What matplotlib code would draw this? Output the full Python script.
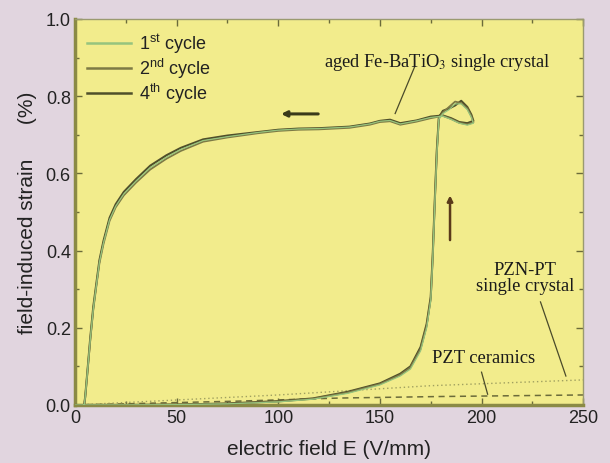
import numpy as np
import matplotlib.pyplot as plt
from matplotlib.ticker import MultipleLocator

plt.rcParams['font.family'] = ['Liberation Sans', 'DejaVu Sans']
plt.rcParams['mathtext.fontset'] = 'custom'
plt.rcParams['mathtext.rm'] = 'Liberation Sans'

# field values along one loop (rise, small loop at top, then back down)
field = [0, 25, 50, 75, 100, 117, 134, 150, 160, 165, 170, 173, 175, 176, 177, 178, 179,
         181, 184, 187, 190, 193, 195, 196, 193, 189, 185, 181,
         175, 168, 160, 155, 150, 145, 135, 120, 110, 100, 90, 75, 63, 52, 45, 37,
         30, 24, 20, 17, 14, 12, 10.5, 9, 7.5, 6, 5, 4.5]
strain_1st = [0, 0.0, 0.001, 0.003, 0.008, 0.015, 0.03, 0.052, 0.075, 0.093, 0.14, 0.2, 0.27, 0.38, 0.52, 0.65, 0.74,
              0.755, 0.765, 0.78, 0.78, 0.765, 0.745, 0.73, 0.725, 0.73, 0.74, 0.748,
              0.745, 0.736, 0.728, 0.737, 0.735, 0.728, 0.72, 0.716, 0.715, 0.712, 0.706, 0.695, 0.685, 0.662, 0.642, 0.615,
              0.58, 0.547, 0.515, 0.48, 0.42, 0.37, 0.31, 0.25, 0.17, 0.08, 0.02, 0.0]
strain_2nd = [0, 0.0, 0.001, 0.003, 0.009, 0.016, 0.032, 0.054, 0.078, 0.097, 0.145, 0.205, 0.275, 0.385, 0.525, 0.655, 0.742,
              0.758, 0.772, 0.786, 0.782, 0.768, 0.748, 0.732, 0.727, 0.731, 0.741, 0.749,
              0.743, 0.734, 0.726, 0.735, 0.733, 0.726, 0.718, 0.714, 0.713, 0.71, 0.704, 0.693, 0.682, 0.658, 0.638, 0.61,
              0.576, 0.543, 0.512, 0.477, 0.417, 0.367, 0.308, 0.248, 0.168, 0.079, 0.02, 0.0]
strain_4th = [0, 0.0, 0.001, 0.004, 0.01, 0.017, 0.034, 0.056, 0.081, 0.1, 0.15, 0.21, 0.28, 0.39, 0.53, 0.66, 0.745,
              0.762, 0.768, 0.776, 0.788, 0.772, 0.752, 0.736, 0.73, 0.733, 0.743, 0.75,
              0.747, 0.737, 0.73, 0.739, 0.736, 0.729, 0.721, 0.717, 0.716, 0.713, 0.707, 0.698, 0.688, 0.666, 0.647, 0.62,
              0.585, 0.552, 0.52, 0.485, 0.425, 0.375, 0.315, 0.255, 0.174, 0.081, 0.021, 0.0]

# reference materials
pzt_field = [0, 80, 130, 180, 250]
pzt_strain = [0.0, 0.01, 0.018, 0.022, 0.026]
pznpt_field = [0, 100, 175, 250]
pznpt_strain = [0.0, 0.026, 0.05, 0.065]

fig = plt.figure(figsize=(6.1, 4.64), dpi=100, facecolor='#e1d5df')
ax = fig.add_axes([0.123, 0.125, 0.833, 0.832])
ax.set_facecolor('#f2ec8c')

ax.plot(pzt_field, pzt_strain, color='#6b6b3a', lw=1.1, ls=(0, (4, 3)))
ax.plot(pznpt_field, pznpt_strain, color='#a0a060', lw=1.0, ls=(0, (1, 2)))

ax.plot(field, strain_4th, color='#4f4f2a', lw=1.5, label='4$^{\\mathrm{th}}$ cycle', zorder=3)
ax.plot(field, strain_2nd, color='#7d7a45', lw=1.3, label='2$^{\\mathrm{nd}}$ cycle', zorder=4)
ax.plot(field, strain_1st, color='#96c47e', lw=0.9, label='1$^{\\mathrm{st}}$ cycle', zorder=5)

# direction arrows
ax.annotate('', xy=(100, 0.754), xytext=(121, 0.754),
            arrowprops=dict(arrowstyle='-|>', color='#3a3a1a', lw=2.2, mutation_scale=8))
ax.annotate('', xy=(184.5, 0.55), xytext=(184.5, 0.42),
            arrowprops=dict(arrowstyle='-|>', color='#5a3a1a', lw=1.8, mutation_scale=8))

serif = ['Liberation Serif', 'DejaVu Serif']
ax.text(178, 0.89, 'aged Fe-BaTiO$_3$ single crystal', family=serif, fontsize=13.3,
        ha='center', va='center', math_fontfamily='stix', color='#1a1a1a')
ax.plot([167, 157.5], [0.875, 0.755], color='#4a4a2a', lw=0.9)
ax.text(221.5, 0.33, 'PZN-PT\nsingle crystal', family=serif, fontsize=13.3,
        ha='center', va='center', linespacing=0.95, color='#1a1a1a')
ax.plot([229, 241.5], [0.267, 0.075], color='#4a4a2a', lw=0.9)
ax.text(201, 0.124, 'PZT ceramics', family=serif, fontsize=13.3, ha='center', va='center',
        color='#1a1a1a')
ax.plot([200, 203], [0.085, 0.028], color='#4a4a2a', lw=0.9)

ax.set_xlim(0, 250)
ax.set_ylim(0, 1.0)
ax.xaxis.set_major_locator(MultipleLocator(50))
ax.xaxis.set_minor_locator(MultipleLocator(25))
ax.yaxis.set_major_locator(MultipleLocator(0.2))
ax.yaxis.set_minor_locator(MultipleLocator(0.1))
ax.yaxis.set_major_formatter(plt.FormatStrFormatter('%.1f'))
ax.tick_params(which='both', direction='in', top=True, right=True, color='#6b6b3a',
               labelsize=13, labelcolor='#222222', pad=3)
ax.tick_params(which='major', length=5, width=1)
ax.tick_params(which='minor', length=3, width=1)
for side in ['left', 'bottom']:
    ax.spines[side].set_color('#8a8a45')
    ax.spines[side].set_linewidth(2.5)
for side in ['top', 'right']:
    ax.spines[side].set_color('#9a9a70')
    ax.spines[side].set_linewidth(1)

ax.set_xlabel('electric field E (V/mm)', fontsize=15, color='#222222', labelpad=9)
ax.set_ylabel('field-induced strain      (%)', fontsize=15, color='#222222', labelpad=6)

h, l = ax.get_legend_handles_labels()
leg = ax.legend(h[::-1], l[::-1], loc='upper left', frameon=False, fontsize=13,
                handlelength=2.4, handletextpad=0.45, labelspacing=0.05,
                borderpad=0.3, bbox_to_anchor=(-0.004, 1.004))
for line in leg.get_lines():
    line.set_linewidth(1.8)
for t in leg.get_texts():
    t.set_color('#222222')

fig.savefig('out.png', dpi=100, facecolor=fig.get_facecolor())
